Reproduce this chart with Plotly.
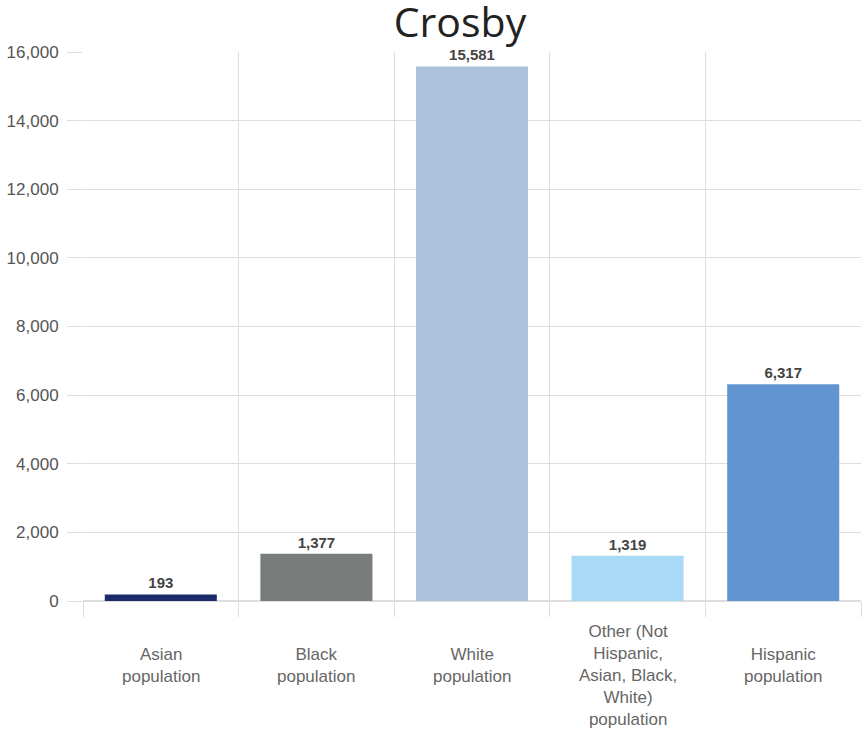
import plotly.graph_objects as go

# Crosby population by race / ethnicity
categories = [
    "Asian population",
    "Black population",
    "White population",
    "Other (Not Hispanic, Asian, Black, White) population",
    "Hispanic population",
]
label_lines = [
    "Asian<br>population",
    "Black<br>population",
    "White<br>population",
    "Other (Not<br>Hispanic,<br>Asian, Black,<br>White)<br>population",
    "Hispanic<br>population",
]
values = [193, 1377, 15581, 1319, 6317]
colors = ["#1b2a6b", "#787d7c", "#adc2dd", "#a8daf6", "#6194d0"]
y_ticks = [0, 2000, 4000, 6000, 8000, 10000, 12000, 14000, 16000]

W, H = 863, 732
M_L, M_R, M_T, M_B = 83, 2, 52, 131
plot_h = H - M_T - M_B
SANS = "Liberation Sans, Arial, sans-serif"

fig = go.Figure(
    go.Bar(
        x=categories,
        y=values,
        marker=dict(color=colors, line=dict(width=0)),
        texttemplate="%{y:,}",
        textposition="outside",
        textfont=dict(family=SANS, size=15, color="#444444", weight="bold"),
        cliponaxis=False,
        width=0.72,
    )
)

grid = "#dedede"
fig.update_xaxes(
    type="category",
    tickson="boundaries",
    ticks="outside",
    ticklen=15,
    tickcolor=grid,
    tickwidth=1,
    showgrid=True,
    gridcolor=grid,
    gridwidth=1,
    showline=True,
    linecolor=grid,
    showticklabels=False,
)
fig.update_yaxes(
    range=[0, 16000],
    tickvals=y_ticks,
    tickformat=",",
    ticks="outside",
    ticklen=15,
    tickcolor=grid,
    showgrid=True,
    gridcolor=grid,
    zeroline=True,
    zerolinecolor=grid,
    tickfont=dict(family=SANS, size=17, color="#555555"),
    ticklabelstandoff=5,
)

# Category labels, drawn as annotations so multi-line text sits centred under each column
annotations = []
for cat, txt in zip(categories, label_lines):
    n = txt.count("<br>") + 1
    top_px = 643 if n <= 2 else 620
    annotations.append(
        dict(
            x=cat,
            xref="x",
            y=(H - M_B - top_px) / plot_h,
            yref="paper",
            yanchor="top",
            xanchor="center",
            text=txt,
            showarrow=False,
            align="center",
            font=dict(family=SANS, size=17, color="#666666"),
        )
    )

fig.update_layout(
    width=W,
    height=H,
    margin=dict(l=M_L, r=M_R, t=M_T, b=M_B),
    paper_bgcolor="white",
    plot_bgcolor="white",
    showlegend=False,
    bargap=0.28,
    title=dict(
        text="Crosby",
        x=0.533,
        xanchor="center",
        y=1 - 23 / H,
        yanchor="middle",
        font=dict(family="Open Sans, Noto Sans, sans-serif", size=41, color="#222222"),
    ),
    annotations=annotations,
)

fig.write_html("out.html")
